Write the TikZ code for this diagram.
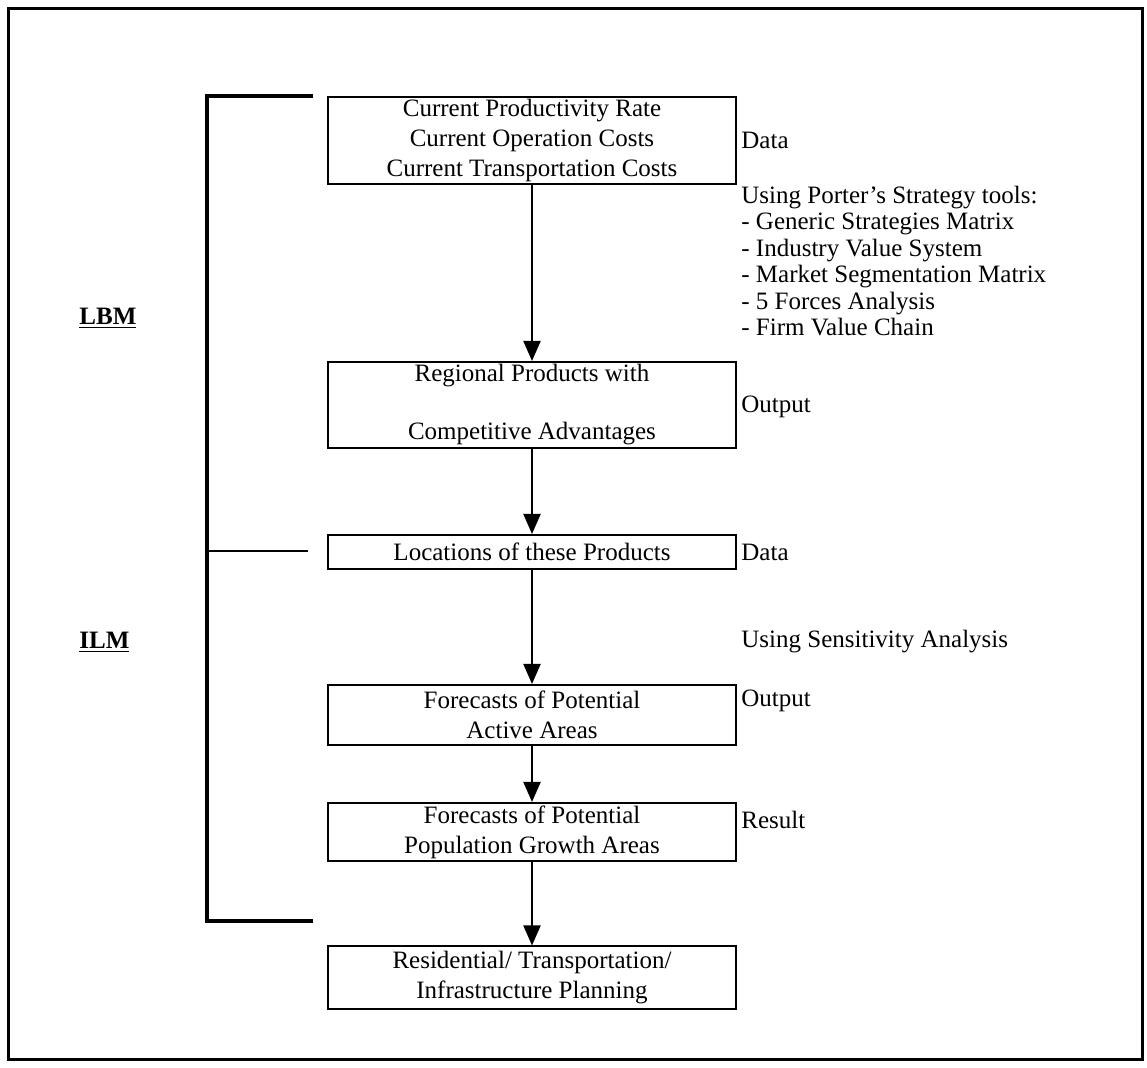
\documentclass[tikz,border=0pt]{standalone}
\usepackage{fontspec}
\setmainfont{Liberation Serif}
\usetikzlibrary{arrows.meta}
\begin{document}
\begin{tikzpicture}[x=0.5pt,y=-0.5pt,
  box/.style={draw, line width=1pt, minimum width=204pt, inner sep=0pt, align=center,
    font=\fontsize{12.5}{15}\selectfont},
  lbl/.style={anchor=west, inner sep=0pt, align=left, font=\fontsize{12.5}{13.25}\selectfont},
  side/.style={anchor=west, inner sep=0pt, font=\fontsize{12.5}{14}\selectfont\bfseries},
  flow/.style={line width=1pt, -{Triangle[width=8.5pt,length=10pt]}},
  frame/.style={line width=1.5pt},
  brace/.style={line width=2.2pt, line join=miter},
  thin/.style={line width=1pt}]
\useasboundingbox (0,0) rectangle (1147,1068);

% outer frame
\draw[frame] (8,9) rectangle (1142,1060);

% boxes
\node[box, minimum height=43.5pt] (b1) at (532,140.5) {Current Productivity Rate\\Current Operation Costs\\Current Transportation Costs};
\node[box, minimum height=43pt] (b2) at (532,405) {Regional Products with\\[14pt]Competitive Advantages};
\node[box, minimum height=17pt] (b3) at (532,552) {Locations of these Products};
\node[box, minimum height=30pt] (b4) at (532,715) {Forecasts of Potential\\Active Areas};
\node[box, minimum height=29pt] (b5) at (532,832) {Forecasts of Potential\\Population Growth Areas};
\node[box, minimum height=31.5pt] (b6) at (532,978) {Residential/ Transportation/\\Infrastructure Planning};

% connectors
\draw[flow] (b1.south) -- (b2.north);
\draw[flow] (b2.south) -- (b3.north);
\draw[flow] (b3.south) -- (b4.north);
\draw[flow] (b4.south) -- (b5.north);
\draw[flow] (b5.south) -- (b6.north);

% right labels
\node[lbl] (d1) at (741,140.5) {Data};
\node[lbl] (tools) at (741,261) {Using Porter's Strategy tools:\\- Generic Strategies Matrix\\- Industry Value System\\- Market Segmentation Matrix\\- 5 Forces Analysis\\- Firm Value Chain};
\node[lbl] (o1) at (741,407) {Output};
\node[lbl] (d2) at (741,552) {Data};
\node[lbl] (sens) at (741,642) {Using Sensitivity Analysis};
\node[lbl] (o2) at (741,701) {Output};
\node[lbl] (res) at (741,820) {Result};

% left labels
\node[side] (lbm) at (79,318) {\underline{LBM}};
\node[side] (ilm) at (79,642) {\underline{ILM}};

% bracket
\coordinate (bt) at (313,96);
\coordinate (bc) at (207,921);
\coordinate (bb) at (313,921);
\draw[brace] (bt) -| (bc) -- (bb);
\coordinate (tl) at (207,551);
\coordinate (tr) at (308,551);
\draw[thin] (tl) -- (tr);
\end{tikzpicture}
\end{document}
